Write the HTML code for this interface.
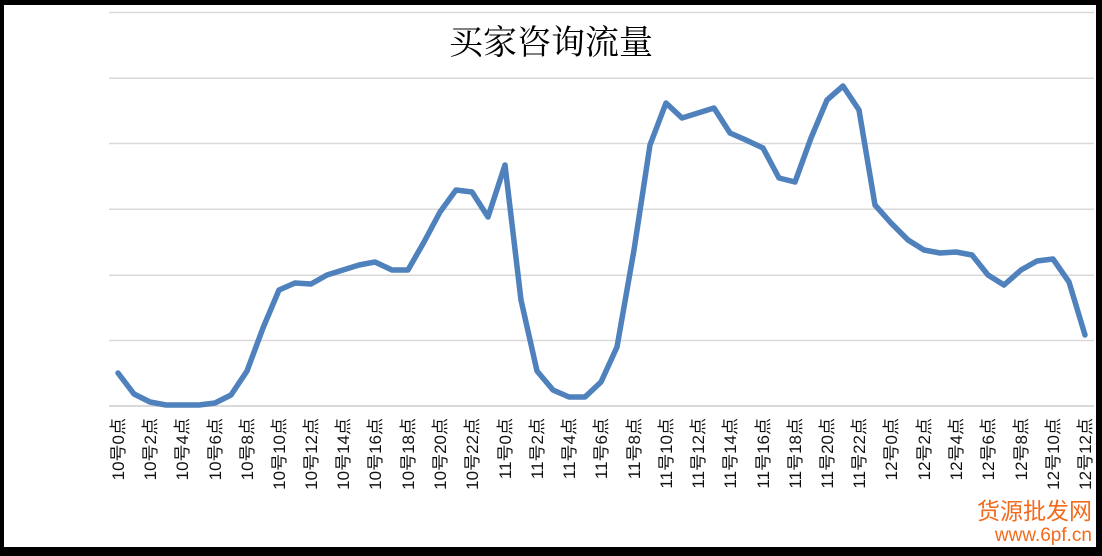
<!DOCTYPE html>
<html><head><meta charset="utf-8"><style>
html,body{margin:0;padding:0;background:#fff;}
svg{display:block;}
</style></head><body>
<svg width="1102" height="556" viewBox="0 0 1102 556" xmlns="http://www.w3.org/2000/svg">
<rect x="0" y="0" width="1102" height="556" fill="#fff"/>
<g stroke="#d9d9d9" stroke-width="1.5">
<line x1="109" y1="12.5" x2="1094" y2="12.5"/>
<line x1="109" y1="78.3" x2="1094" y2="78.3"/>
<line x1="109" y1="143.5" x2="1094" y2="143.5"/>
<line x1="109" y1="209.3" x2="1094" y2="209.3"/>
<line x1="109" y1="275.3" x2="1094" y2="275.3"/>
<line x1="109" y1="340.5" x2="1094" y2="340.5"/>
<line x1="109" y1="406" x2="1094" y2="406" stroke-width="2"/>
</g>
<text x="551" y="54" text-anchor="middle" font-family="'Noto Serif CJK SC','Noto Sans CJK SC',serif" font-size="34" fill="#000">买家咨询流量</text>
<polyline fill="none" stroke="#4f81bd" stroke-width="5.5" stroke-linejoin="round" stroke-linecap="round" points="
118,373 134,394 150,402 166,405 182,405 199,405 215,403 231,395 247,371 263,328 279,290 295,283 311,284 327,275 343,270 359,265 375,262 392,270 408,270 424,242 440,212 456,190 472,192 488,217 505,165 521,300 537,371 553,390 569,397 585,397 601,382 617,347 634,250 650,145 666,103 682,118 698,113 714,108 730,133 746,140 763,148 779,178 795,182 811,138 827,100 843,86 859,110 875,205 891,223 908,240 924,250 940,253 956,252 972,255 988,275 1004,285 1021,270 1037,261 1053,259 1069,282 1085,335"/>
<g font-family="'Liberation Sans','Noto Sans CJK SC',sans-serif" font-size="17" fill="#111" text-anchor="end">
<text transform="translate(124,418) rotate(-90)">10号0点</text>
<text transform="translate(156,418) rotate(-90)">10号2点</text>
<text transform="translate(188,418) rotate(-90)">10号4点</text>
<text transform="translate(221,418) rotate(-90)">10号6点</text>
<text transform="translate(253,418) rotate(-90)">10号8点</text>
<text transform="translate(285,418) rotate(-90)">10号10点</text>
<text transform="translate(317,418) rotate(-90)">10号12点</text>
<text transform="translate(349,418) rotate(-90)">10号14点</text>
<text transform="translate(381,418) rotate(-90)">10号16点</text>
<text transform="translate(414,418) rotate(-90)">10号18点</text>
<text transform="translate(446,418) rotate(-90)">10号20点</text>
<text transform="translate(478,418) rotate(-90)">10号22点</text>
<text transform="translate(511,418) rotate(-90)">11号0点</text>
<text transform="translate(543,418) rotate(-90)">11号2点</text>
<text transform="translate(575,418) rotate(-90)">11号4点</text>
<text transform="translate(607,418) rotate(-90)">11号6点</text>
<text transform="translate(640,418) rotate(-90)">11号8点</text>
<text transform="translate(672,418) rotate(-90)">11号10点</text>
<text transform="translate(704,418) rotate(-90)">11号12点</text>
<text transform="translate(736,418) rotate(-90)">11号14点</text>
<text transform="translate(769,418) rotate(-90)">11号16点</text>
<text transform="translate(801,418) rotate(-90)">11号18点</text>
<text transform="translate(833,418) rotate(-90)">11号20点</text>
<text transform="translate(865,418) rotate(-90)">11号22点</text>
<text transform="translate(897,418) rotate(-90)">12号0点</text>
<text transform="translate(930,418) rotate(-90)">12号2点</text>
<text transform="translate(962,418) rotate(-90)">12号4点</text>
<text transform="translate(994,418) rotate(-90)">12号6点</text>
<text transform="translate(1027,418) rotate(-90)">12号8点</text>
<text transform="translate(1059,418) rotate(-90)">12号10点</text>
<text transform="translate(1091,418) rotate(-90)">12号12点</text>
</g>
<text x="1092" y="519" text-anchor="end" font-family="'Noto Sans CJK SC',sans-serif" font-size="23" fill="#f26b1d">货源批发网</text>
<text x="1092" y="541" text-anchor="end" font-family="'Liberation Sans',sans-serif" font-size="19" fill="#f26b1d">www.6pf.cn</text>
<rect x="0" y="0" width="1102" height="5" fill="#000"/>
<rect x="0" y="0" width="4" height="556" fill="#000"/>
<rect x="1096" y="0" width="6" height="556" fill="#000"/>
<rect x="0" y="547" width="1102" height="9" fill="#000"/>
</svg>
</body></html>
